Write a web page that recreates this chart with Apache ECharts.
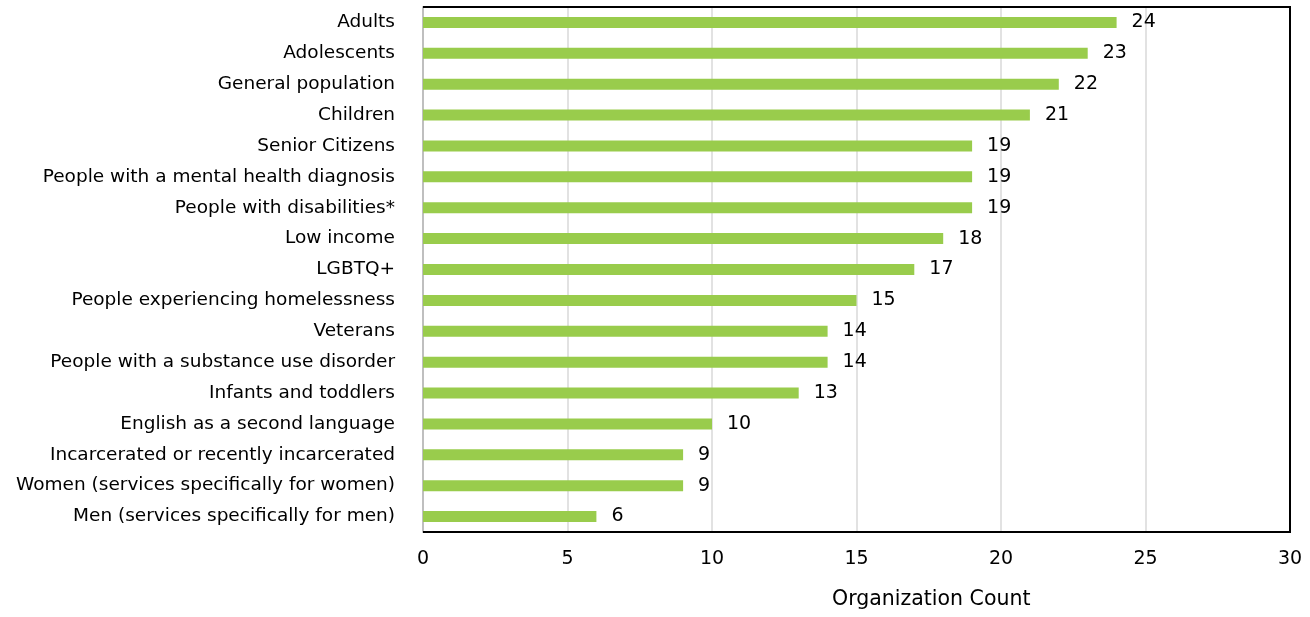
<!DOCTYPE html>
<html><head><meta charset="utf-8">
<script src="https://cdn.jsdelivr.net/npm/echarts@6/dist/echarts.min.js"></script>
<style>html,body{margin:0;padding:0;background:#fff}#c{width:1310px;height:617px}</style>
</head><body><div id="c"></div>
<script>
const categories = ["Adults","Adolescents","General population","Children","Senior Citizens","People with a mental health diagnosis","People with disabilities*","Low income","LGBTQ+","People experiencing homelessness","Veterans","People with a substance use disorder","Infants and toddlers","English as a second language","Incarcerated or recently incarcerated","Women (services specifically for women)","Men (services specifically for men)"];
const counts = [24,23,22,21,19,19,19,18,17,15,14,14,13,10,9,9,6];
const xTicks = [0,5,10,15,20,25,30];
const xAxisTitle = "Organization Count";
const FONT = "DejaVu Sans";
const G = {left:423, top:7, right:1290, bottom:532};
const chart = echarts.init(document.getElementById('c'));
chart.setOption({
  animation:false,
  textStyle:{fontFamily:FONT},
  grid:{left:G.left,right:1310-G.right,top:G.top,bottom:617-G.bottom},
  xAxis:{type:'value',min:xTicks[0],max:xTicks[xTicks.length-1],interval:5,
    axisLine:{show:false},axisTick:{show:false},
    splitLine:{show:true,lineStyle:{color:'#d9d9d9',width:1.5}},
    axisLabel:{color:'#000',fontSize:19,margin:18,fontFamily:FONT}},
  yAxis:{type:'category',data:categories,inverse:true,
    axisLine:{show:true,lineStyle:{color:'#bfbfbf',width:2}},axisTick:{show:false},
    axisLabel:{color:'#000',fontSize:18.5,margin:28,fontFamily:FONT}},
  graphic:[
    {type:'text',left:832,top:589,style:{text:xAxisTitle,fontSize:20.5,fill:'#000',fontFamily:FONT}},
    {type:'polyline',z:100,silent:true,shape:{points:[[G.left,G.top],[G.right,G.top],[G.right,G.bottom],[G.left,G.bottom]]},style:{stroke:'#000',lineWidth:2,fill:null}}
  ],
  series:[{type:'bar',data:counts,barWidth:11,itemStyle:{color:'#99CC4C'},
    label:{show:true,position:'right',distance:15,color:'#000',fontSize:19,fontFamily:FONT}}]
});
</script></body></html>
